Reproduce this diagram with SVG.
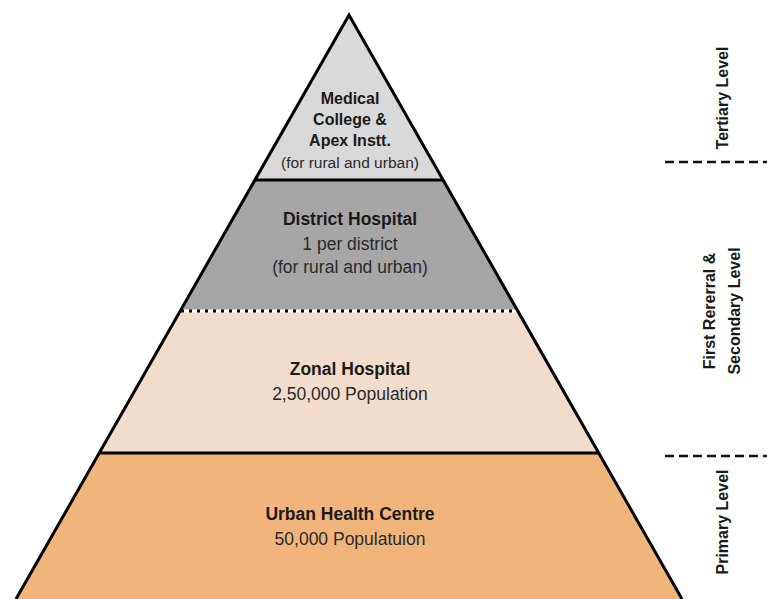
<svg xmlns="http://www.w3.org/2000/svg" width="767" height="599" viewBox="0 0 767 599">
<style>
.b{font-family:"Liberation Sans",Arial,sans-serif;font-weight:bold;font-size:17.5px;fill:#1a1a1a;text-anchor:middle}
.r{font-family:"Liberation Sans",Arial,sans-serif;font-size:17.5px;fill:#2a2a2a;text-anchor:middle}
.bs{font-size:16px}
.rs{font-size:15.5px}
.lv{font-size:16px}
.edge{fill:none;stroke:#000;stroke-width:3;stroke-linejoin:miter}
.dash{stroke:#111;stroke-width:2.5;stroke-dasharray:9,5}
</style>
<rect width="767" height="599" fill="#fff"/>
<g id="tertiary">
<polygon points="349,15 255.3,180 442.7,180" fill="#d9d9d9"/>
<text class="b bs" x="350" y="104">Medical</text>
<text class="b bs" x="350" y="125">College &amp;</text>
<text class="b bs" x="350" y="146">Apex Instt.</text>
<text class="r rs" x="350" y="168">(for rural and urban)</text>
</g>
<g id="district">
<polygon points="255.3,180 442.7,180 517.5,311 180.9,311" fill="#a6a6a6"/>
<text class="b" x="350" y="225">District Hospital</text>
<text class="r" x="350" y="250">1 per district</text>
<text class="r" x="350" y="273">(for rural and urban)</text>
</g>
<g id="zonal">
<polygon points="180.9,311 517.5,311 598.6,453 100.3,453" fill="#f2dccb"/>
<text class="b" x="350" y="375">Zonal Hospital</text>
<text class="r" x="350" y="400">2,50,000 Population</text>
</g>
<g id="urban">
<polygon points="100.3,453 598.6,453 682,599 16,599" fill="#f1b57b"/>
<text class="b" x="350" y="520">Urban Health Centre</text>
<text class="r" x="350" y="545">50,000 Populatuion</text>
</g>
<g id="connectors">
<line x1="255.3" y1="180" x2="442.7" y2="180" stroke="#000" stroke-width="3"/>
<line x1="181" y1="311" x2="517.5" y2="311" stroke="#fff" stroke-width="3"/>
<line x1="181" y1="311" x2="517.5" y2="311" stroke="#000" stroke-width="3" stroke-dasharray="3,5"/>
<line x1="100.3" y1="453" x2="598.6" y2="453" stroke="#000" stroke-width="3"/>
<polyline class="edge" points="16,599 349,15 682,599"/>
<line class="dash" x1="665" y1="162" x2="767" y2="162"/>
<line class="dash" x1="665" y1="456" x2="767" y2="456"/>
</g>
<g id="levels">
<text class="b lv" transform="translate(728,98) rotate(-90)">Tertiary Level</text>
<text class="b lv" transform="translate(715,311) rotate(-90)">First Rererral &amp;</text>
<text class="b lv" transform="translate(740,311) rotate(-90)">Secondary Level</text>
<text class="b lv" transform="translate(728,522) rotate(-90)">Primary Level</text>
</g>
</svg>
